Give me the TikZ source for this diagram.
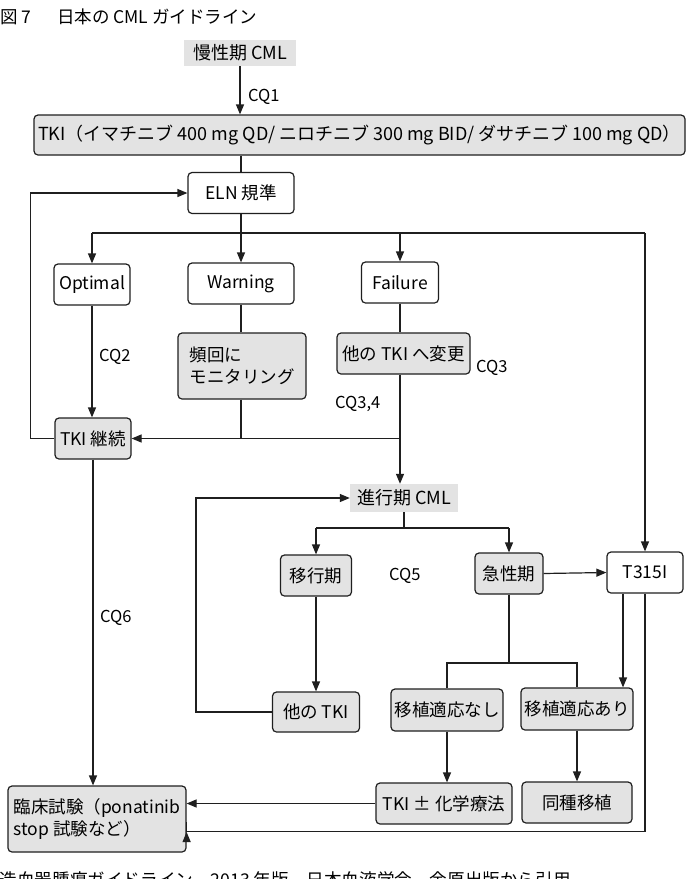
\documentclass[tikz,border=0pt]{standalone}
\usepackage{fontspec}
\setmainfont{Noto Sans CJK JP}
\usetikzlibrary{arrows.meta}
\definecolor{stip}{gray}{0.89}
\definecolor{ink}{gray}{0.12}
\tikzset{
  box/.style={draw=ink, line width=1.2pt, rounded corners=4pt, fill=stip, inner sep=0pt,
    font=\fontsize{17.5}{22}\selectfont, align=center},
  wbox/.style={box, fill=white},
  bare/.style={fill=stip, inner sep=0pt, font=\fontsize{18}{22}\selectfont},
  ln/.style={line width=1.2pt, draw=ink},
  arr/.style={ln, -{Triangle[length=10pt,width=8pt]}},
  lbl/.style={anchor=west, inner sep=0pt, font=\fontsize{16.5}{19}\selectfont},
}
\begin{document}
\begin{tikzpicture}[x=1pt,y=-1pt]
\useasboundingbox (0,0) rectangle (687,879);
\clip (0,0) rectangle (687,879);
\fill[white] (0,0) rectangle (687,879);

% title
\node[anchor=west, inner sep=0pt, font=\fontsize{17.5}{20}\selectfont] (fig) at (0,17) {図 7};
\node[anchor=west, inner sep=0pt, font=\fontsize{17.5}{20}\selectfont] (title) at (57,17) {日本の CML ガイドライン};

% nodes
\node[bare, minimum width=112, minimum height=26] (mansei) at (240,53) {慢性期 CML};
\node[box, minimum width=651, minimum height=40, font=\fontsize{18}{22}\selectfont] (tki) at (359.5,135) {TKI（イマチニブ 400 mg QD/ ニロチニブ 300 mg BID/ ダサチニブ 100 mg QD）};
\node[wbox, minimum width=106, minimum height=41] (eln) at (241,193) {ELN 規準};
\node[wbox, minimum width=76, minimum height=41] (optimal) at (92,284.5) {Optimal};
\node[wbox, minimum width=106, minimum height=41] (warning) at (241,283.5) {Warning};
\node[wbox, minimum width=77, minimum height=41] (failure) at (400,282.5) {Failure};
\node[box, minimum width=128, minimum height=66, align=left] (hinkai) at (242,366) {頻回に\\モニタリング};
\node[box, minimum width=133, minimum height=41] (henkou) at (403.5,353.5) {他の TKI へ変更};
\node[box, minimum width=76, minimum height=41] (keizoku) at (93,438.5) {TKI 継続};
\node[bare, minimum width=108, minimum height=28] (shinkou) at (404,498) {進行期 CML};
\node[box, minimum width=71, minimum height=41] (ikouki) at (316,575.5) {移行期};
\node[box, minimum width=68, minimum height=41] (kyusei) at (509,573.5) {急性期};
\node[wbox, minimum width=76, minimum height=41] (t315) at (645,572.5) {T315I};
\node[box, minimum width=87, minimum height=40] (hoka) at (316,712) {他の TKI};
\node[box, minimum width=112, minimum height=42] (nashi) at (447,710) {移植適応なし};
\node[box, minimum width=112, minimum height=42] (ari) at (577,709) {移植適応あり};
\node[box, minimum width=136, minimum height=41] (kagaku) at (444,803.5) {TKI ± 化学療法};
\node[box, minimum width=110, minimum height=41] (doushu) at (577,802.5) {同種移植};
\node[box, minimum width=178, minimum height=66, align=left] (rinsho) at (97,819) {臨床試験（ponatinib\\stop 試験など）};

% labels
\node[lbl] (cq1) at (248,97) {CQ1};
\node[lbl] (cq2) at (99,357) {CQ2};
\node[lbl] (cq3) at (476,368) {CQ3};
\node[lbl] (cq34) at (335,404) {CQ3,4};
\node[lbl] (cq5) at (389,576) {CQ5};
\node[lbl] (cq6) at (100,618) {CQ6};

% caption (cut off at bottom, as in the source)
\node[anchor=east, inner sep=0pt, font=\fontsize{17.6}{20}\selectfont] (cap) at (571,880) {造血器腫瘍ガイドライン　2013 年版　日本血液学会　金原出版から引用};

% coordinates
\coordinate (busL) at (92,233);
\coordinate (busR) at (645,233);
\coordinate (bus2L) at (316,528);
\coordinate (bus2R) at (509,528);
\coordinate (brL) at (447,663);
\coordinate (brR) at (577,663);

% connectors
\draw[arr] (mansei.south) -- (mansei.south |- tki.north);
\draw[ln] (eln.north |- tki.south) -- (eln.north);
\draw[ln] (busL) -- (busR);
\draw[arr] (eln.south) -- (warning.north);
\draw[arr] (busL) -- (optimal.north);
\draw[arr] (failure.north |- busL) -- (failure.north);
\draw[arr] (busR) -- (busR |- t315.north);
\draw[arr] (keizoku.west) -- ++(-24,0) |- (eln.west);
\draw[arr] (optimal.south) -- (optimal.south |- keizoku.north);
\draw[ln] (warning.south) -- (warning.south |- hinkai.north);
\draw[ln] (failure.south) -- (failure.south |- henkou.north);
\draw[ln] (warning.south |- hinkai.south) -- (warning.south |- keizoku.east);
\draw[arr] (failure.south |- keizoku.east) -- (keizoku.east);
\draw[arr] (failure.south |- henkou.south) -- (failure.south |- shinkou.north);
\draw[ln] (shinkou.south) -- (shinkou.south |- bus2L);
\draw[ln] (bus2L) -- (bus2R);
\draw[arr] (bus2L) -- (ikouki.north);
\draw[arr] (bus2R) -- (kyusei.north);
\draw[arr] (ikouki.south) -- (hoka.north);
\draw[arr] (hoka.west) -- ++(-76,0) |- (shinkou.west);
\draw[arr] (kyusei.east) -- (t315.west);
\draw[ln] (kyusei.south) -- (kyusei.south |- brL);
\draw[ln] (nashi.north) -- (brL) -- (brR) -- (ari.north);
\draw[arr] ([xshift=-22pt]t315.south) -- ([xshift=-22pt]t315.south |- ari.north);
\draw[arr] (keizoku.south) -- (keizoku.south |- rinsho.north);
\draw[arr] (nashi.south) -- (nashi.south |- kagaku.north);
\draw[arr] (ari.south) -- (ari.south |- doushu.north);
\draw[arr] (kagaku.west) -- (kagaku.west -| rinsho.east);
\draw[arr] (t315.south) -- ++(0,238) -| ([yshift=-13pt]rinsho.east) -- ([yshift=-13pt]rinsho.east);
\end{tikzpicture}
\end{document}
